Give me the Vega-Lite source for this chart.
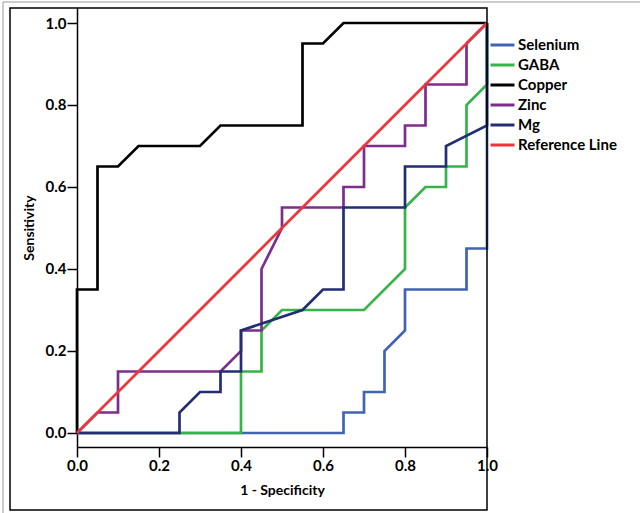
{
  "$schema": "https://vega.github.io/schema/vega-lite/v6.json",
  "autosize": {"type": "none"},
  "width": 410,
  "height": 439,
  "padding": {"left": 77, "top": 8, "right": 153, "bottom": 66},
  "background": "white",
  "config": {
    "view": {"stroke": null},
    "font": "Lato",
    "axis": {
      "grid": false,
      "domainColor": "black",
      "domainWidth": 1.5,
      "tickColor": "black",
      "tickWidth": 1.5,
      "tickSize": 10,
      "labelFont": "Lato",
      "labelFontSize": 15,
      "labelFontWeight": "bold",
      "labelColor": "black",
      "labelPadding": 1,
      "labelFlush": false,
      "labelOverlap": false,
      "titleFont": "Lato",
      "titleFontSize": 14,
      "titleFontWeight": "bold",
      "titleColor": "black"
    },
    "legend": {
      "orient": "none",
      "legendX": 412,
      "legendY": 27,
      "symbolType": "stroke",
      "symbolSize": 576,
      "symbolStrokeWidth": 3,
      "labelFont": "Lato",
      "labelFontSize": 15,
      "labelFontWeight": "bold",
      "labelColor": "black",
      "labelOffset": 2,
      "clipHeight": 20,
      "rowPadding": 0
    }
  },
  "datasets": {
    "roc": [
      {"series": "Selenium", "k": 0, "fpr": 0, "tpr": 0},
      {"series": "Selenium", "k": 1, "fpr": 0.65, "tpr": 0},
      {"series": "Selenium", "k": 2, "fpr": 0.65, "tpr": 0.05},
      {"series": "Selenium", "k": 3, "fpr": 0.70, "tpr": 0.05},
      {"series": "Selenium", "k": 4, "fpr": 0.70, "tpr": 0.10},
      {"series": "Selenium", "k": 5, "fpr": 0.75, "tpr": 0.10},
      {"series": "Selenium", "k": 6, "fpr": 0.75, "tpr": 0.20},
      {"series": "Selenium", "k": 7, "fpr": 0.80, "tpr": 0.25},
      {"series": "Selenium", "k": 8, "fpr": 0.80, "tpr": 0.35},
      {"series": "Selenium", "k": 9, "fpr": 0.95, "tpr": 0.35},
      {"series": "Selenium", "k": 10, "fpr": 0.95, "tpr": 0.45},
      {"series": "Selenium", "k": 11, "fpr": 1.0, "tpr": 0.45},
      {"series": "Selenium", "k": 12, "fpr": 1.0, "tpr": 1.0},
      {"series": "GABA", "k": 0, "fpr": 0, "tpr": 0},
      {"series": "GABA", "k": 1, "fpr": 0.40, "tpr": 0},
      {"series": "GABA", "k": 2, "fpr": 0.40, "tpr": 0.15},
      {"series": "GABA", "k": 3, "fpr": 0.45, "tpr": 0.15},
      {"series": "GABA", "k": 4, "fpr": 0.45, "tpr": 0.25},
      {"series": "GABA", "k": 5, "fpr": 0.50, "tpr": 0.30},
      {"series": "GABA", "k": 6, "fpr": 0.70, "tpr": 0.30},
      {"series": "GABA", "k": 7, "fpr": 0.80, "tpr": 0.40},
      {"series": "GABA", "k": 8, "fpr": 0.80, "tpr": 0.55},
      {"series": "GABA", "k": 9, "fpr": 0.85, "tpr": 0.60},
      {"series": "GABA", "k": 10, "fpr": 0.90, "tpr": 0.60},
      {"series": "GABA", "k": 11, "fpr": 0.90, "tpr": 0.65},
      {"series": "GABA", "k": 12, "fpr": 0.95, "tpr": 0.65},
      {"series": "GABA", "k": 13, "fpr": 0.95, "tpr": 0.80},
      {"series": "GABA", "k": 14, "fpr": 1.0, "tpr": 0.85},
      {"series": "GABA", "k": 15, "fpr": 1.0, "tpr": 1.0},
      {"series": "Copper", "k": 0, "fpr": 0, "tpr": 0},
      {"series": "Copper", "k": 1, "fpr": 0, "tpr": 0.35},
      {"series": "Copper", "k": 2, "fpr": 0.05, "tpr": 0.35},
      {"series": "Copper", "k": 3, "fpr": 0.05, "tpr": 0.65},
      {"series": "Copper", "k": 4, "fpr": 0.10, "tpr": 0.65},
      {"series": "Copper", "k": 5, "fpr": 0.15, "tpr": 0.70},
      {"series": "Copper", "k": 6, "fpr": 0.30, "tpr": 0.70},
      {"series": "Copper", "k": 7, "fpr": 0.35, "tpr": 0.75},
      {"series": "Copper", "k": 8, "fpr": 0.55, "tpr": 0.75},
      {"series": "Copper", "k": 9, "fpr": 0.55, "tpr": 0.95},
      {"series": "Copper", "k": 10, "fpr": 0.60, "tpr": 0.95},
      {"series": "Copper", "k": 11, "fpr": 0.65, "tpr": 1.0},
      {"series": "Copper", "k": 12, "fpr": 1.0, "tpr": 1.0},
      {"series": "Zinc", "k": 0, "fpr": 0, "tpr": 0},
      {"series": "Zinc", "k": 1, "fpr": 0.05, "tpr": 0.05},
      {"series": "Zinc", "k": 2, "fpr": 0.10, "tpr": 0.05},
      {"series": "Zinc", "k": 3, "fpr": 0.10, "tpr": 0.15},
      {"series": "Zinc", "k": 4, "fpr": 0.35, "tpr": 0.15},
      {"series": "Zinc", "k": 5, "fpr": 0.40, "tpr": 0.20},
      {"series": "Zinc", "k": 6, "fpr": 0.40, "tpr": 0.25},
      {"series": "Zinc", "k": 7, "fpr": 0.45, "tpr": 0.25},
      {"series": "Zinc", "k": 8, "fpr": 0.45, "tpr": 0.40},
      {"series": "Zinc", "k": 9, "fpr": 0.50, "tpr": 0.50},
      {"series": "Zinc", "k": 10, "fpr": 0.50, "tpr": 0.55},
      {"series": "Zinc", "k": 11, "fpr": 0.65, "tpr": 0.55},
      {"series": "Zinc", "k": 12, "fpr": 0.65, "tpr": 0.60},
      {"series": "Zinc", "k": 13, "fpr": 0.70, "tpr": 0.60},
      {"series": "Zinc", "k": 14, "fpr": 0.70, "tpr": 0.70},
      {"series": "Zinc", "k": 15, "fpr": 0.80, "tpr": 0.70},
      {"series": "Zinc", "k": 16, "fpr": 0.80, "tpr": 0.75},
      {"series": "Zinc", "k": 17, "fpr": 0.85, "tpr": 0.75},
      {"series": "Zinc", "k": 18, "fpr": 0.85, "tpr": 0.85},
      {"series": "Zinc", "k": 19, "fpr": 0.95, "tpr": 0.85},
      {"series": "Zinc", "k": 20, "fpr": 0.95, "tpr": 0.95},
      {"series": "Zinc", "k": 21, "fpr": 1.0, "tpr": 1.0},
      {"series": "Mg", "k": 0, "fpr": 0, "tpr": 0},
      {"series": "Mg", "k": 1, "fpr": 0.25, "tpr": 0},
      {"series": "Mg", "k": 2, "fpr": 0.25, "tpr": 0.05},
      {"series": "Mg", "k": 3, "fpr": 0.30, "tpr": 0.10},
      {"series": "Mg", "k": 4, "fpr": 0.35, "tpr": 0.10},
      {"series": "Mg", "k": 5, "fpr": 0.35, "tpr": 0.15},
      {"series": "Mg", "k": 6, "fpr": 0.40, "tpr": 0.15},
      {"series": "Mg", "k": 7, "fpr": 0.40, "tpr": 0.25},
      {"series": "Mg", "k": 8, "fpr": 0.55, "tpr": 0.30},
      {"series": "Mg", "k": 9, "fpr": 0.60, "tpr": 0.35},
      {"series": "Mg", "k": 10, "fpr": 0.65, "tpr": 0.35},
      {"series": "Mg", "k": 11, "fpr": 0.65, "tpr": 0.55},
      {"series": "Mg", "k": 12, "fpr": 0.80, "tpr": 0.55},
      {"series": "Mg", "k": 13, "fpr": 0.80, "tpr": 0.65},
      {"series": "Mg", "k": 14, "fpr": 0.90, "tpr": 0.65},
      {"series": "Mg", "k": 15, "fpr": 0.90, "tpr": 0.70},
      {"series": "Mg", "k": 16, "fpr": 1.0, "tpr": 0.75},
      {"series": "Mg", "k": 17, "fpr": 1.0, "tpr": 1.0},
      {"series": "Reference Line", "k": 0, "fpr": 0, "tpr": 0},
      {"series": "Reference Line", "k": 1, "fpr": 1.0, "tpr": 1.0}
    ]
  },
  "layer": [
    {
      "data": {"name": "roc"},
      "mark": {"type": "line", "strokeWidth": 2.7, "clip": false},
      "encoding": {
        "x": {
          "field": "fpr",
          "type": "quantitative",
          "scale": {"domain": [0, 1], "nice": false, "zero": false},
          "axis": {
            "title": "1 - Specificity",
            "values": [0, 0.2, 0.4, 0.6, 0.8, 1.0],
            "format": ".1f",
            "titlePadding": 10
          }
        },
        "y": {
          "field": "tpr",
          "type": "quantitative",
          "scale": {"domain": [-0.0342, 1.0366], "nice": false, "zero": false},
          "axis": {
            "title": "Sensitivity",
            "values": [0, 0.2, 0.4, 0.6, 0.8, 1.0],
            "format": ".1f",
            "titlePadding": 9
          }
        },
        "color": {
          "field": "series",
          "type": "nominal",
          "scale": {
            "domain": ["Selenium", "GABA", "Copper", "Zinc", "Mg", "Reference Line"],
            "range": ["#4262b2", "#35b44a", "#000000", "#7d2e8c", "#232d73", "#f0353a"]
          },
          "legend": {"title": null}
        },
        "order": {"field": "k", "type": "quantitative"}
      }
    },
    {
      "data": {"values": [{}]},
      "mark": {"type": "rect", "filled": false, "stroke": "#9a9a9a", "strokeWidth": 1, "clip": false},
      "encoding": {
        "x": {
          "datum": -0.1805,
          "type": "quantitative",
          "scale": {"domain": [0, 1], "nice": false, "zero": false},
          "axis": {
            "title": "1 - Specificity",
            "values": [0, 0.2, 0.4, 0.6, 0.8, 1.0],
            "format": ".1f",
            "titlePadding": 10
          }
        },
        "x2": {"datum": 1.6},
        "y": {
          "datum": 1.0512,
          "type": "quantitative",
          "scale": {"domain": [-0.0342, 1.0366], "nice": false, "zero": false},
          "axis": {
            "title": "Sensitivity",
            "values": [0, 0.2, 0.4, 0.6, 0.8, 1.0],
            "format": ".1f",
            "titlePadding": 9
          }
        },
        "y2": {"datum": -0.4}
      }
    },
    {
      "data": {"values": [{}]},
      "mark": {"type": "rect", "filled": false, "stroke": "black", "strokeWidth": 1.5, "clip": false},
      "encoding": {
        "x": {
          "datum": -0.1634,
          "type": "quantitative",
          "scale": {"domain": [0, 1], "nice": false, "zero": false},
          "axis": {
            "title": "1 - Specificity",
            "values": [0, 0.2, 0.4, 0.6, 0.8, 1.0],
            "format": ".1f",
            "titlePadding": 10
          }
        },
        "x2": {"datum": 1.0},
        "y": {
          "datum": 1.0366,
          "type": "quantitative",
          "scale": {"domain": [-0.0342, 1.0366], "nice": false, "zero": false},
          "axis": {
            "title": "Sensitivity",
            "values": [0, 0.2, 0.4, 0.6, 0.8, 1.0],
            "format": ".1f",
            "titlePadding": 9
          }
        },
        "y2": {"datum": -0.1878}
      }
    }
  ]
}
